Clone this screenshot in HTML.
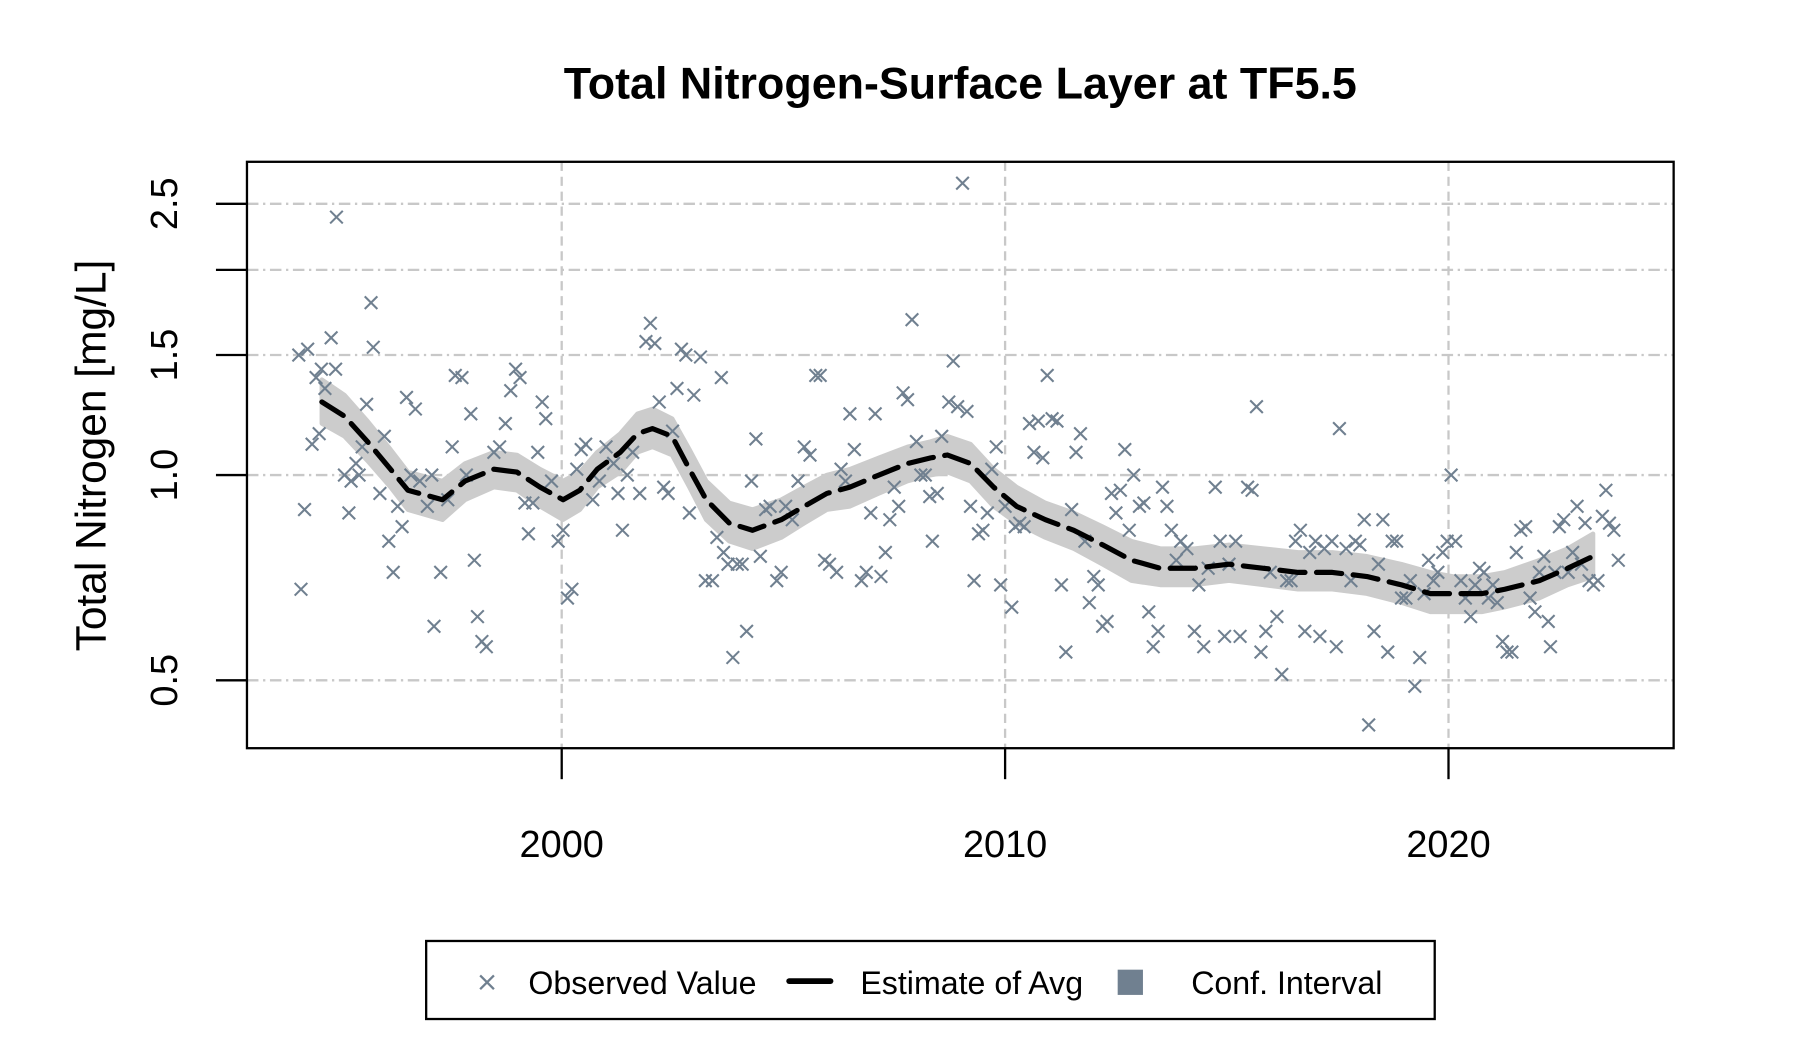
<!DOCTYPE html>
<html><head><meta charset="utf-8"><style>
html,body{margin:0;padding:0;background:#fff;}
svg{display:block;font-family:"Liberation Sans",Arial,sans-serif;}
</style></head><body>
<svg id="chart" width="1800" height="1050" viewBox="0 0 1567 915" preserveAspectRatio="none">
<rect x="0" y="0" width="1567" height="915" fill="#fff"/>
<text x="836" y="86" text-anchor="middle" font-size="39" font-weight="bold">Total Nitrogen-Surface Layer at TF5.5</text>
<g id="grid"></g>
<g id="band"></g>
<g id="pts"></g>
<g id="est"></g>
<rect x="215" y="141" width="1242" height="511" fill="none" stroke="#000" stroke-width="2"/>
<g id="axes"></g>
<text transform="translate(92,397) rotate(-90)" text-anchor="middle" font-size="37">Total Nitrogen [mg/L]</text>
<g>
<rect x="371" y="820" width="878" height="68" fill="#fff" stroke="#000" stroke-width="2"/>
<g>
<path d="M418 850 L430 862 M430 850 L418 862" stroke="#708090" stroke-width="2"/>
<text x="460" y="866" font-size="28">Observed Value</text></g>
<g>
<line x1="687" y1="855" x2="723" y2="855" stroke="#000" stroke-width="5" stroke-linecap="round"/>
<text x="749" y="866" font-size="28">Estimate of Avg</text></g>
<g>
<rect x="973" y="845" width="22" height="22" fill="#708090"/>
<text x="1037" y="866" font-size="28">Conf. Interval</text></g>
</g>
</svg>
<script>
const obsYear=[1994.12,1994.2,1994.07,1994.27,1994.37,1994.46,1994.58,1994.66,1994.8,1994.9,1994.92,1994.53,1995.1,1995.2,1995.25,1995.36,1995.43,1995.5,1995.6,1995.7,1995.75,1995.9,1996.0,1996.1,1996.2,1996.3,1996.4,1996.5,1996.6,1996.7,1996.8,1996.97,1997.07,1997.12,1997.27,1997.43,1997.53,1997.6,1997.75,1997.85,1997.95,1998.03,1998.1,1998.2,1998.3,1998.47,1998.6,1998.73,1998.85,1998.96,1999.06,1999.17,1999.25,1999.35,1999.46,1999.56,1999.64,1999.77,1999.92,2000.03,2000.13,2000.23,2000.34,2000.44,2000.54,2000.7,2000.85,2001.0,2001.17,2001.27,2001.37,2001.48,2001.6,2001.76,2001.9,2002.0,2002.1,2002.2,2002.3,2002.4,2002.5,2002.6,2002.7,2002.8,2002.88,2002.98,2003.13,2003.24,2003.4,2003.5,2003.6,2003.65,2003.75,2003.86,2003.96,2004.07,2004.17,2004.28,2004.38,2004.48,2004.6,2004.7,2004.85,2004.95,2005.05,2005.2,2005.33,2005.47,2005.6,2005.73,2005.83,2005.93,2006.04,2006.2,2006.3,2006.4,2006.5,2006.6,2006.76,2006.87,2006.97,2007.07,2007.2,2007.3,2007.4,2007.5,2007.6,2007.7,2007.8,2007.9,2008.0,2008.1,2008.2,2008.3,2008.36,2008.47,2008.57,2008.73,2008.83,2008.93,2009.04,2009.14,2009.22,2009.3,2009.4,2009.5,2009.6,2009.7,2009.8,2009.9,2010.0,2010.15,2010.23,2010.33,2010.43,2010.55,2010.65,2010.75,2010.85,2010.95,2011.06,2011.17,2011.27,2011.37,2011.5,2011.6,2011.7,2011.8,2011.9,2012.0,2012.1,2012.2,2012.3,2012.4,2012.5,2012.6,2012.7,2012.8,2012.9,2013.03,2013.13,2013.24,2013.34,2013.45,2013.55,2013.65,2013.75,2013.86,2013.96,2014.1,2014.27,2014.37,2014.48,2014.58,2014.74,2014.85,2014.95,2015.05,2015.2,2015.3,2015.47,2015.57,2015.67,2015.77,2015.88,2015.98,2016.13,2016.24,2016.35,2016.45,2016.55,2016.66,2016.76,2016.87,2017.0,2017.1,2017.2,2017.37,2017.47,2017.54,2017.69,2017.8,2017.9,2018.0,2018.1,2018.2,2018.32,2018.42,2018.52,2018.63,2018.73,2018.83,2018.94,2019.04,2019.14,2019.24,2019.35,2019.45,2019.55,2019.66,2019.76,2019.87,2019.97,2020.06,2020.16,2020.28,2020.38,2020.5,2020.6,2020.7,2020.8,2020.9,2021.0,2021.1,2021.22,2021.32,2021.43,2021.53,2021.63,2021.74,2021.84,2021.95,2022.05,2022.15,2022.25,2022.3,2022.4,2022.5,2022.6,2022.7,2022.8,2022.9,2023.0,2023.08,2023.17,2023.27,2023.37,2023.47,2023.55,2023.63,2023.73,2023.83];
const obsValue=[0.68,0.89,1.5,1.53,1.11,1.39,1.43,1.34,1.59,1.43,2.39,1.15,1.0,0.88,0.98,1.04,1.0,1.1,1.27,1.79,1.54,0.94,1.14,0.80,0.72,0.9,0.84,1.3,1.0,1.25,0.98,0.9,1.0,0.6,0.72,0.92,1.1,1.4,1.39,1.0,1.23,0.75,0.62,0.57,0.56,1.08,1.1,1.19,1.33,1.43,1.39,0.91,0.82,0.91,1.08,1.28,1.21,0.98,0.80,0.83,0.66,0.68,1.02,1.09,1.11,0.92,0.98,1.1,1.04,0.94,0.83,1.0,1.08,0.94,1.57,1.67,1.56,1.28,0.96,0.94,1.16,1.34,1.53,1.5,0.88,1.31,1.49,0.70,0.70,0.81,1.39,0.77,0.74,0.54,0.74,0.74,0.59,0.98,1.13,0.76,0.89,0.9,0.70,0.72,0.9,0.86,0.98,1.1,1.07,1.4,1.4,0.75,0.74,0.72,1.02,0.98,1.23,1.09,0.70,0.72,0.88,1.23,0.71,0.77,0.86,0.96,0.9,1.32,1.29,1.69,1.12,1.0,1.0,0.93,0.80,0.94,1.14,1.28,1.47,1.26,2.68,1.24,0.9,0.70,0.82,0.83,0.88,1.02,1.1,0.69,0.9,0.64,0.84,0.85,0.84,1.19,1.08,1.2,1.06,1.4,1.21,1.2,0.69,0.55,0.89,1.08,1.15,0.80,0.65,0.71,0.69,0.6,0.61,0.94,0.88,0.95,1.09,0.83,1.0,0.9,0.91,0.63,0.56,0.59,0.96,0.9,0.83,0.75,0.80,0.78,0.59,0.69,0.56,0.73,0.96,0.80,0.58,0.74,0.80,0.58,0.96,0.95,1.26,0.55,0.59,0.72,0.62,0.51,0.70,0.70,0.80,0.83,0.59,0.77,0.80,0.58,0.78,0.80,0.56,1.17,0.78,0.70,0.80,0.79,0.86,0.43,0.59,0.74,0.86,0.55,0.80,0.80,0.66,0.66,0.70,0.49,0.54,0.67,0.75,0.70,0.72,0.77,0.80,1.0,0.80,0.70,0.66,0.62,0.69,0.73,0.72,0.66,0.69,0.65,0.57,0.55,0.55,0.77,0.83,0.84,0.66,0.63,0.72,0.76,0.61,0.56,0.72,0.84,0.86,0.72,0.77,0.90,0.74,0.85,0.70,0.69,0.70,0.87,0.95,0.85,0.83,0.75];
const estYear=[1994.59,1995.10,1995.62,1996.14,1996.53,1997.31,1997.82,1998.47,1998.99,1999.51,2000.03,2000.41,2000.80,2001.32,2001.71,2002.05,2002.49,2002.88,2003.26,2003.78,2004.30,2004.95,2005.47,2005.98,2006.50,2007.15,2007.80,2008.32,2008.70,2009.22,2009.74,2010.26,2010.91,2011.55,2012.20,2012.85,2013.50,2014.27,2015.05,2015.83,2016.61,2017.38,2018.16,2018.94,2019.59,2020.10,2020.75,2021.27,2022.05,2022.69,2023.26];
const estValue=[1.28,1.22,1.12,1.02,0.95,0.92,0.98,1.02,1.01,0.96,0.92,0.95,1.02,1.08,1.15,1.17,1.14,1.02,0.92,0.85,0.83,0.86,0.90,0.94,0.96,1.0,1.04,1.06,1.07,1.04,0.96,0.90,0.86,0.83,0.79,0.75,0.73,0.73,0.74,0.73,0.72,0.72,0.71,0.69,0.67,0.67,0.67,0.68,0.70,0.73,0.76];
const ciUpper=[1.38,1.31,1.20,1.09,1.01,0.98,1.04,1.08,1.07,1.02,0.98,1.01,1.08,1.15,1.23,1.25,1.21,1.09,0.98,0.91,0.89,0.92,0.96,1.00,1.02,1.06,1.10,1.12,1.14,1.11,1.02,0.96,0.91,0.88,0.84,0.80,0.78,0.78,0.79,0.78,0.77,0.77,0.76,0.74,0.72,0.71,0.71,0.72,0.75,0.78,0.82];
const ciLower=[1.19,1.14,1.05,0.96,0.89,0.86,0.92,0.96,0.95,0.90,0.86,0.89,0.96,1.01,1.08,1.10,1.07,0.96,0.86,0.80,0.78,0.81,0.85,0.89,0.90,0.94,0.98,1.00,1.01,0.98,0.90,0.85,0.81,0.78,0.74,0.70,0.69,0.69,0.70,0.69,0.68,0.68,0.67,0.65,0.63,0.63,0.63,0.64,0.66,0.69,0.71];
const xTicks=[2000,2010,2020];
const xTickLabels=["2000","2010","2020"];
const yTicks=[0.5,1.0,1.5,2.0,2.5];
const yTickLabels=["0.5","1.0","1.5","","2.5"];

const NS="http://www.w3.org/2000/svg";
function X(yr){return 489+(yr-2000)*38.6;}
function Y(v){return 414-Math.log(v)*258;}
function mk(tag,attrs,parent){const e=document.createElementNS(NS,tag);for(const k in attrs)e.setAttribute(k,attrs[k]);parent.appendChild(e);return e;}
const grid=document.getElementById('grid'),axes=document.getElementById('axes');
yTicks.forEach((t,i)=>{
  const g=mk('line',{x1:215,x2:1457,y1:Y(t),y2:Y(t),stroke:'#c8c8c8','stroke-width':2,'stroke-dasharray':'10 4 2 4'},grid);
  
  
  const tk=mk('line',{x1:188,x2:215,y1:Y(t),y2:Y(t),stroke:'#000','stroke-width':2},axes);
  
  
  if(yTickLabels[i]){
    const tx=mk('text',{transform:`translate(154,${Y(t)}) rotate(-90)`,'text-anchor':'middle','font-size':33},axes);
    tx.textContent=yTickLabels[i];
    
    
  }
});
xTicks.forEach((t,i)=>{
  const g=mk('line',{x1:X(t),x2:X(t),y1:141,y2:652,stroke:'#c8c8c8','stroke-width':2,'stroke-dasharray':'8 5'},grid);
  
  
  const tk=mk('line',{x1:X(t),x2:X(t),y1:652,y2:679,stroke:'#000','stroke-width':2},axes);
  
  
  const tx=mk('text',{x:X(t),y:747,'text-anchor':'middle','font-size':33},axes);
  tx.textContent=xTickLabels[i];
  
  
});
let d='';
estYear.forEach((yr,i)=>{d+=(i?'L':'M')+X(yr).toFixed(1)+' '+Y(ciUpper[i]).toFixed(1)+' ';});
for(let i=estYear.length-1;i>=0;i--){d+='L'+X(estYear[i]).toFixed(1)+' '+Y(ciLower[i]).toFixed(1)+' ';}
const band=mk('path',{d:d+'Z',fill:'#cccccc',stroke:'#cccccc','stroke-width':4,'stroke-linejoin':'round'},document.getElementById('band'));


const pts=document.getElementById('pts');
obsYear.forEach((yr,i)=>{
  const x=X(yr),y=Y(obsValue[i]),s=5.5;
  const p=mk('path',{d:`M${x-s} ${y-s}L${x+s} ${y+s}M${x+s} ${y-s}L${x-s} ${y+s}`,stroke:'#708090','stroke-width':1.8},pts);
  
  
});
let e='';
estYear.forEach((yr,i)=>{e+=(i?'L':'M')+X(yr).toFixed(1)+' '+Y(estValue[i]).toFixed(1)+' ';});
const line=mk('path',{d:e,fill:'none',stroke:'#000','stroke-width':4.5,'stroke-dasharray':'22 10','stroke-linecap':'round','stroke-linejoin':'round'},document.getElementById('est'));


</script>
</body></html>
